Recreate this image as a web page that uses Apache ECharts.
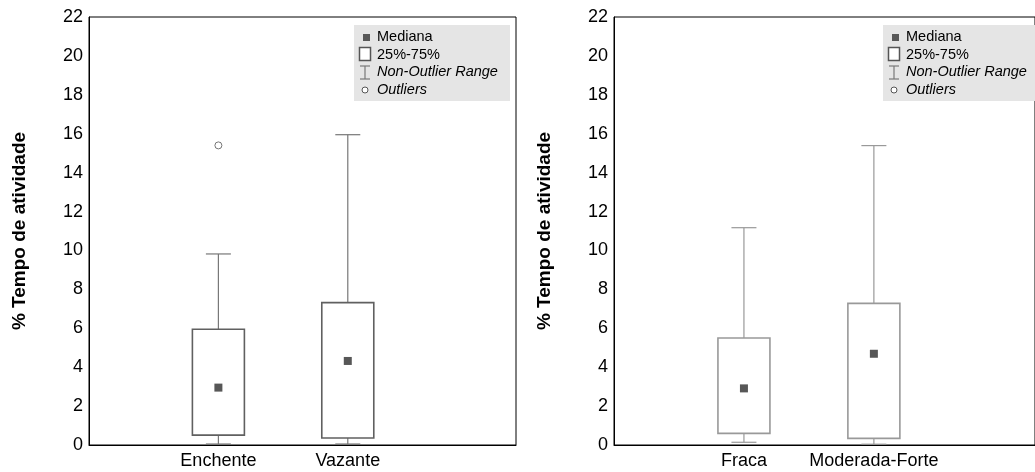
<!DOCTYPE html>
<html>
<head>
<meta charset="utf-8">
<script src="https://cdn.jsdelivr.net/npm/echarts@6/dist/echarts.min.js"></script>
<style>
html,body{margin:0;padding:0;background:#fff;}
#chart{width:1035px;height:472px;}
</style>
</head>
<body>
<div id="chart"></div>
<script>
// ---- data ----
var yTicks = [0, 2, 4, 6, 8, 10, 12, 14, 16, 18, 20, 22];
var yAxisTitle = '% Tempo de atividade';

// Panel 1: maré
var cats1 = ['Enchente', 'Vazante'];
var low1 = [0.05, 0.05];
var q1_1 = [0.51, 0.36];
var med1 = [2.95, 4.32];
var q3_1 = [5.95, 7.32];
var high1 = [9.82, 15.95];
var outliers1 = [[1, 15.4]]; // [category position, value]

// Panel 2: intensidade
var cats2 = ['Fraca', 'Moderada-Forte'];
var low2 = [0.14, 0.04];
var q1_2 = [0.60, 0.34];
var med2 = [2.91, 4.69];
var q3_2 = [5.50, 7.28];
var high2 = [11.17, 15.39];
var outliers2 = [];

var legendLabels = ['Mediana', '25%-75%', 'Non-Outlier Range', 'Outliers'];

// ---- build ----
function boxData(lo, q1, md, q3, hi) {
  return lo.map(function (v, i) { return [i + 1, lo[i], q1[i], md[i], q3[i], hi[i]]; });
}

function makeRender(boxColor, whiskColor) {
  return function (params, api) {
    var x = api.value(0);
    var pLo = api.coord([x, api.value(1)]);
    var pQ1 = api.coord([x, api.value(2)]);
    var pMd = api.coord([x, api.value(3)]);
    var pQ3 = api.coord([x, api.value(4)]);
    var pHi = api.coord([x, api.value(5)]);
    var cx = pMd[0];
    var hb = 26, hc = 12.5, ms = 8;
    var ls = { stroke: whiskColor, lineWidth: 1.2 };
    return {
      type: 'group',
      children: [
        { type: 'line', shape: { x1: cx, y1: pHi[1], x2: cx, y2: pQ3[1] }, style: ls },
        { type: 'line', shape: { x1: cx, y1: pQ1[1], x2: cx, y2: pLo[1] }, style: ls },
        { type: 'line', shape: { x1: cx - hc, y1: pHi[1], x2: cx + hc, y2: pHi[1] }, style: ls },
        { type: 'line', shape: { x1: cx - hc, y1: pLo[1], x2: cx + hc, y2: pLo[1] }, style: ls },
        { type: 'rect', shape: { x: cx - hb, y: pQ3[1], width: 2 * hb, height: pQ1[1] - pQ3[1] },
          style: { fill: '#fff', stroke: boxColor, lineWidth: 1.6 } },
        { type: 'rect', shape: { x: cx - ms / 2, y: pMd[1] - ms / 2, width: ms, height: ms },
          style: { fill: '#575757' } }
      ]
    };
  };
}

function legendGraphic(ox, oy, boxColor) {
  var ts = { fontFamily: 'Liberation Sans, Arial, sans-serif', fontSize: 14.5, fill: '#000', verticalAlign: 'middle' };
  function t(str, y, italic) {
    return { type: 'text', x: ox + 23, y: oy + y,
      style: Object.assign({}, ts, { text: str, fontStyle: italic ? 'italic' : 'normal' }) };
  }
  return [
    { type: 'rect', shape: { x: ox, y: oy, width: 156, height: 76 }, style: { fill: '#e5e5e5' } },
    { type: 'rect', shape: { x: ox + 9, y: oy + 9, width: 7, height: 7 }, style: { fill: '#575757' } },
    t(legendLabels[0], 12),
    { type: 'rect', shape: { x: ox + 5.5, y: oy + 22.5, width: 11, height: 13 }, style: { fill: '#fff', stroke: boxColor, lineWidth: 1.5 } },
    t(legendLabels[1], 30),
    { type: 'line', shape: { x1: ox + 11, y1: oy + 41, x2: ox + 11, y2: oy + 54 }, style: { stroke: '#777', lineWidth: 1.2 } },
    { type: 'line', shape: { x1: ox + 6, y1: oy + 41, x2: ox + 16, y2: oy + 41 }, style: { stroke: '#777', lineWidth: 1.2 } },
    { type: 'line', shape: { x1: ox + 6, y1: oy + 54, x2: ox + 16, y2: oy + 54 }, style: { stroke: '#777', lineWidth: 1.2 } },
    t(legendLabels[2], 47, true),
    { type: 'circle', shape: { cx: ox + 11, cy: oy + 65, r: 3 }, style: { fill: '#fff', stroke: '#555', lineWidth: 1 } },
    t(legendLabels[3], 65, true)
  ];
}

var font = 'Liberation Sans, Arial, sans-serif';

function xAxis(idx, maxV, cats) {
  return {
    type: 'value', gridIndex: idx, min: 0, max: maxV, interval: 1,
    axisLine: { show: true, onZero: false, lineStyle: { color: '#000', width: 1 } },
    axisTick: { show: false },
    splitLine: { show: false },
    axisLabel: {
      color: '#000', fontFamily: font, fontSize: 18, margin: 7,
      showMaxLabel: false,
      formatter: function (v) { return v === 1 ? cats[0] : (v === 2 ? cats[1] : ''); }
    }
  };
}

function yAxis(idx) {
  return {
    type: 'value', gridIndex: idx, min: yTicks[0], max: yTicks[yTicks.length - 1], interval: 2,
    name: yAxisTitle, nameLocation: 'middle', nameGap: 60,
    nameTextStyle: { color: '#000', fontFamily: font, fontSize: 19, fontWeight: 'bold' },
    axisLine: { show: true, lineStyle: { color: '#000', width: 1 } },
    axisTick: { show: false },
    splitLine: { show: false },
    axisLabel: { color: '#000', fontFamily: font, fontSize: 18, margin: 6 }
  };
}

var option = {
  animation: false,
  backgroundColor: '#fff',
  grid: [
    { left: 89, top: 17, width: 427, height: 428, show: true, borderColor: '#000', borderWidth: 1, backgroundColor: '#fff' },
    { left: 614, top: 17, width: 431, height: 428, show: true, borderColor: '#000', borderWidth: 1, backgroundColor: '#fff' }
  ],
  xAxis: [xAxis(0, 3.3, cats1), xAxis(1, 3.24, cats2)],
  yAxis: [yAxis(0), yAxis(1)],
  series: [
    { type: 'custom', xAxisIndex: 0, yAxisIndex: 0, renderItem: makeRender('#606060', '#777'),
      data: boxData(low1, q1_1, med1, q3_1, high1), encode: { x: 0, y: [1, 2, 3, 4, 5] }, clip: false },
    { type: 'scatter', xAxisIndex: 0, yAxisIndex: 0, data: outliers1, symbol: 'circle', symbolSize: 7,
      itemStyle: { color: '#fff', borderColor: '#555', borderWidth: 1 } },
    { type: 'custom', xAxisIndex: 1, yAxisIndex: 1, renderItem: makeRender('#999', '#999'),
      data: boxData(low2, q1_2, med2, q3_2, high2), encode: { x: 0, y: [1, 2, 3, 4, 5] }, clip: false },
    { type: 'scatter', xAxisIndex: 1, yAxisIndex: 1, data: outliers2, symbol: 'circle', symbolSize: 7,
      itemStyle: { color: '#fff', borderColor: '#555', borderWidth: 1 } }
  ],
  graphic: legendGraphic(354, 25, '#555').concat(legendGraphic(883, 25, '#555'))
};

var chart = echarts.init(document.getElementById('chart'), null, { renderer: 'canvas' });
chart.setOption(option);
</script>
</body>
</html>
